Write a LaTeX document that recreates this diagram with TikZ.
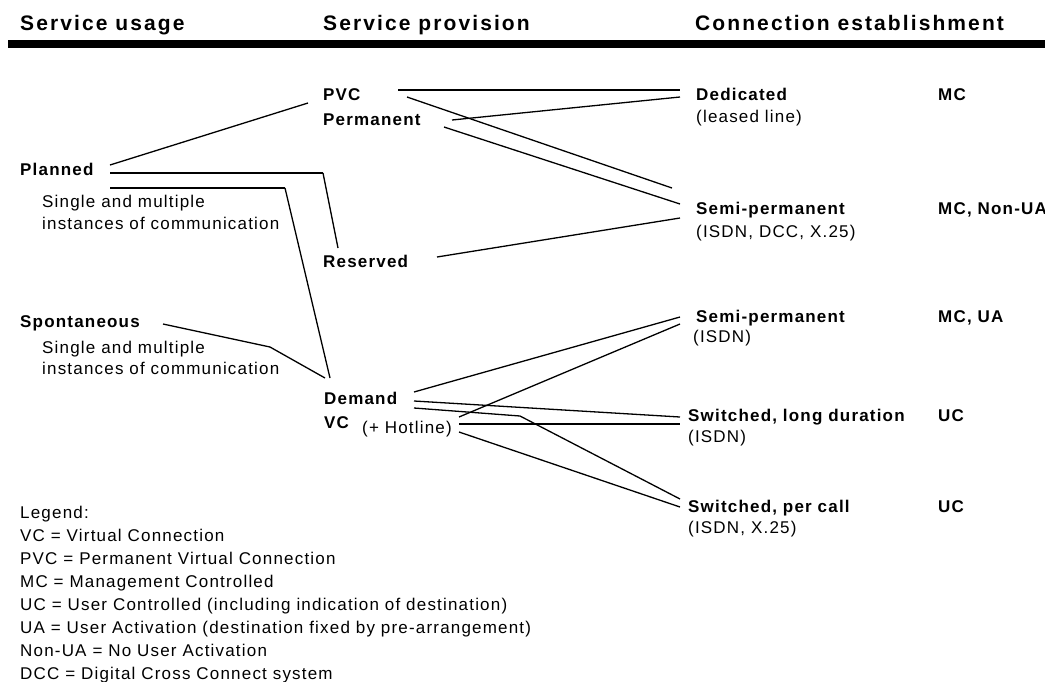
\documentclass[tikz,border=0pt]{standalone}
\usepackage{fontspec}
\setmainfont{Liberation Sans}
\newfontfamily\hdfont[LetterSpace=10]{Liberation Sans}
\newfontfamily\bodyfont[LetterSpace=7]{Liberation Sans}
\begin{document}
\begin{tikzpicture}[x=1pt,y=-1pt,
  lbl/.style={anchor=base west, inner sep=0pt, font=\bodyfont\fontsize{17}{17}\selectfont},
  blbl/.style={anchor=base west, inner sep=0pt, font=\bodyfont\bfseries\fontsize{17}{17}\selectfont},
  hdr/.style={anchor=base west, inner sep=0pt, font=\hdfont\bfseries\fontsize{21}{21}\selectfont},
  conn/.style={line width=1.3pt, line join=miter},
  hconn/.style={line width=1.9pt}]
\useasboundingbox (0,0) rectangle (1045,681);

% headers
\node[hdr] (h1) at (20,30) {Service usage};
\node[hdr] (h2) at (323,30) {Service provision};
\node[hdr] (h3) at (695,30) {Connection establishment};
\fill (8,40) rectangle (1045,48);

% service usage
\node[blbl] (planned) at (20,175) {Planned};
\node[lbl] (plsub1) at (42,207) {Single and multiple};
\node[lbl] (plsub2) at (42,229) {instances of communication};
\node[blbl] (spont) at (20,327) {Spontaneous};
\node[lbl] (spsub1) at (42,353) {Single and multiple};
\node[lbl] (spsub2) at (42,374) {instances of communication};

% service provision
\node[blbl] (pvc) at (323,100) {PVC};
\node[blbl] (perm) at (323,125) {Permanent};
\node[blbl] (reserved) at (323,267) {Reserved};
\node[blbl] (demand) at (324,404) {Demand};
\node[blbl] (vc) at (324,428) {VC};
\node[lbl] (hotline) at (362,433) {(+ Hotline)};

% connection establishment
\node[blbl] (ded) at (696,100) {Dedicated};
\node[lbl] (dedsub) at (696,122) {(leased line)};
\node[blbl] (semiA) at (696,214) {Semi-permanent};
\node[lbl] (semiAsub) at (696,237) {(ISDN, DCC, X.25)};
\node[blbl] (semiB) at (696,322) {Semi-permanent};
\node[lbl] (semiBsub) at (693,342) {(ISDN)};
\node[blbl] (swlong) at (688,421) {Switched, long duration};
\node[lbl] (swlongsub) at (688,442) {(ISDN)};
\node[blbl] (swcall) at (688,512) {Switched, per call};
\node[lbl] (swcallsub) at (688,533) {(ISDN, X.25)};

% control
\node[blbl] (ctl1) at (938,100) {MC};
\node[blbl] (ctl2) at (938,214) {MC, Non-UA};
\node[blbl] (ctl3) at (938,322) {MC, UA};
\node[blbl] (ctl4) at (938,421) {UC};
\node[blbl] (ctl5) at (938,512) {UC};

% legend
\node[lbl] (leg0) at (20,518) {Legend:};
\node[lbl] (leg1) at (20,541) {VC = Virtual Connection};
\node[lbl] (leg2) at (20,564) {PVC = Permanent Virtual Connection};
\node[lbl] (leg3) at (20,587) {MC = Management Controlled};
\node[lbl] (leg4) at (20,610) {UC = User Controlled (including indication of destination)};
\node[lbl] (leg5) at (20,633) {UA = User Activation (destination fixed by pre-arrangement)};
\node[lbl] (leg6) at (20,656) {Non-UA = No User Activation};
\node[lbl] (leg7) at (20,679) {DCC = Digital Cross Connect system};

% connector ports
\coordinate (plA) at (110,165);
\coordinate (plB) at (110,173);
\coordinate (plC) at (110,188);
\coordinate (spA) at (163,324);
\coordinate (pvcIn) at (308,103);
\coordinate (resIn) at (338,248);
\coordinate (demInA) at (330,378);
\coordinate (demInB) at (325,378);
\coordinate (pvcA) at (398,90);
\coordinate (pvcB) at (407,97);
\coordinate (permA) at (452,120);
\coordinate (permB) at (444,127);
\coordinate (resOut) at (437,257);
\coordinate (demA) at (414,392);
\coordinate (demB) at (414,401);
\coordinate (demC) at (414,408);
\coordinate (hotA) at (459,417);
\coordinate (hotB) at (459,424);
\coordinate (hotC) at (459,432);
\coordinate (dedA) at (680,90);
\coordinate (dedB) at (680,97);
\coordinate (semiAa) at (672,188);
\coordinate (semiAb) at (680,204);
\coordinate (semiAc) at (680,218);
\coordinate (semiBa) at (680,317);
\coordinate (semiBb) at (680,324);
\coordinate (swlA) at (680,417);
\coordinate (swlB) at (680,424);
\coordinate (swcA) at (680,499);
\coordinate (swcB) at (680,507);

% usage -> provision
\draw[conn] (plA) -- (pvcIn);
\draw[hconn] (plB) -- (323,173);
\draw[conn] (323,173) -- (resIn);
\draw[hconn] (plC) -- (285,188);
\draw[conn] (285,188) -- (demInA);
\draw[conn] (spA) -- (270,347) -- (demInB);

% provision -> establishment
\draw[hconn] (pvcA) -- (dedA);
\draw[conn] (pvcB) -- (semiAa);
\draw[conn] (permA) -- (dedB);
\draw[conn] (permB) -- (semiAb);
\draw[conn] (resOut) -- (semiAc);
\draw[conn] (demA) -- (semiBa);
\draw[conn] (demB) -- (swlA);
\draw[conn] (demC) -- (520,416) -- (swcA);
\draw[conn] (hotA) -- (semiBb);
\draw[hconn] (hotB) -- (swlB);
\draw[conn] (hotC) -- (swcB);
\end{tikzpicture}
\end{document}
